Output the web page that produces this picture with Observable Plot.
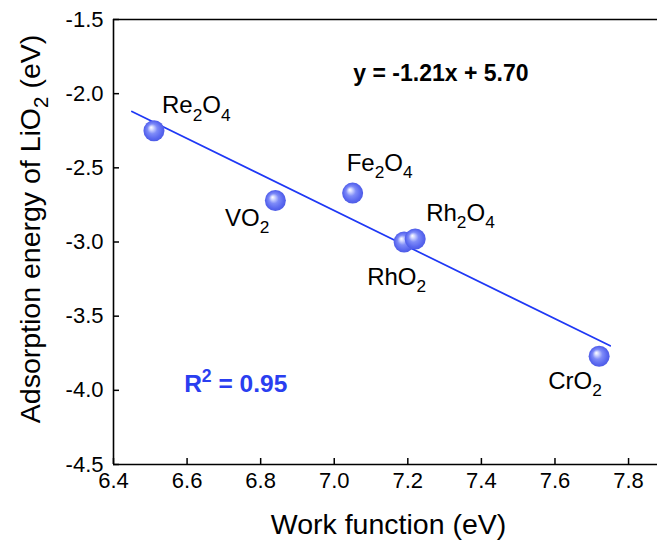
<!DOCTYPE html>
<html><head><meta charset="utf-8">
<script src="https://cdn.jsdelivr.net/npm/d3@7"></script>
<script src="https://cdn.jsdelivr.net/npm/@observablehq/plot@0.6"></script>
<style>
body{margin:0;background:#fff}
svg{font-family:"Liberation Sans",Arial,Helvetica,sans-serif}
</style>
</head><body><div id="chart"></div>
<script>
// ---- data ----
const materials    = ["Re2O4", "VO2", "Fe2O4", "RhO2", "Rh2O4", "CrO2"];
const workFunction = [6.51, 6.84, 7.05, 7.19, 7.22, 7.72];
const adsorption   = [-2.25, -2.72, -2.67, -3.00, -2.98, -3.77];
const fitX = [6.45, 7.75];
const fitY = [-2.12, -3.70];
const xTicks = [6.4, 6.6, 6.8, 7.0, 7.2, 7.4, 7.6, 7.8];
const yTicks = [-1.5, -2.0, -2.5, -3.0, -3.5, -4.0, -4.5];
const xTitle = "Work function (eV)";
const yTitle = "Adsorption energy of LiO_2 (eV)";
const equationText = "y = -1.21x + 5.70";
const r2Text = "R^2 = 0.95";
const equationPos = {x: 7.29, y: -1.865};
const r2Pos = {x: 6.592, y: -3.955};

// label placement (style)
const placement = {
  "Re2O4": {dx: 8,   dy: -25, anchor: "start"},
  "VO2":   {dx: -6,  dy: 18,  anchor: "end"},
  "Fe2O4": {dx: -6,  dy: -30, anchor: "start"},
  "RhO2":  {dx: -37, dy: 35,  anchor: "start"},
  "Rh2O4": {dx: 11,  dy: -26, anchor: "start"},
  "CrO2":  {dx: -51, dy: 25,  anchor: "start"}
};

const points = materials.map((m, i) => ({name: m, x: workFunction[i], y: adsorption[i]}));
const fit = fitX.map((x, i) => ({x, y: fitY[i]}));

const W = 657, H = 549, mL = 113, mR = 0, mT = 19, mB = 85;
const plotW = W - mL - mR, plotH = H - mT - mB;

const labelMarks = points.map(p => Plot.text([p], {
  x: "x", y: "y", text: "name",
  dx: placement[p.name].dx, dy: placement[p.name].dy,
  textAnchor: placement[p.name].anchor, lineAnchor: "middle",
  fontSize: 24, fill: "#000", ariaDescription: "formula-label"
}));

const chart = Plot.plot({
  width: W, height: H,
  marginLeft: mL, marginRight: mR, marginTop: mT, marginBottom: mB,
  x: {domain: [6.4, 6.4 + plotW / 367.9]},
  y: {domain: [-4.5, -1.5]},
  marks: [
    Plot.axisX({ticks: xTicks, tickSize: 0, tickPadding: 8, fontSize: 22, fill: "#000",
      tickFormat: d => d.toFixed(1), label: null}),
    Plot.axisY({ticks: yTicks, tickSize: 0, tickPadding: 10, fontSize: 22, fill: "#000",
      tickFormat: d => d.toFixed(1), label: null}),
    Plot.tickX(xTicks, {x: d => d, insetTop: plotH - 6, stroke: "#000", strokeWidth: 1.5}),
    Plot.tickY(yTicks, {y: d => d, insetRight: plotW - 6, stroke: "#000", strokeWidth: 1.5}),
    Plot.ruleY([yTicks[0]], {stroke: "#000", strokeWidth: 1.6}),
    Plot.ruleY([yTicks[yTicks.length - 1]], {stroke: "#000", strokeWidth: 1.6}),
    Plot.ruleX([xTicks[0]], {stroke: "#000", strokeWidth: 1.6}),
    Plot.line(fit, {x: "x", y: "y", stroke: "#1f38f5", strokeWidth: 1.7}),
    Plot.dot(points, {x: "x", y: "y", r: 10.5, fill: "#5a68f0", stroke: "none", ariaDescription: "spheres"}),
    ...labelMarks,
    Plot.text([equationText], {x: () => equationPos.x, y: () => equationPos.y, text: d => d,
      textAnchor: "middle", lineAnchor: "middle", fontSize: 23, fontWeight: "bold", fill: "#000"}),
    Plot.text([r2Text], {x: () => r2Pos.x, y: () => r2Pos.y, text: d => d,
      textAnchor: "start", lineAnchor: "middle", fontSize: 24.5, fontWeight: "bold", fill: "#2a3ef0",
      ariaDescription: "r2"}),
    Plot.text([xTitle], {frameAnchor: "bottom", text: d => d, dx: 3, dy: 60,
      textAnchor: "middle", lineAnchor: "middle", fontSize: 28.5, fill: "#000"}),
    Plot.text([yTitle], {frameAnchor: "left", text: d => d, rotate: -90, dx: -83, dy: -13,
      textAnchor: "middle", lineAnchor: "middle", fontSize: 28.5, fill: "#000", ariaDescription: "ytitle"})
  ]
});

// ---- gradient spheres ----
const root = chart.tagName.toLowerCase() === "svg" ? chart : chart.querySelector("svg");
const svg = d3.select(root);
const defs = svg.insert("defs", ":first-child");
const grad = defs.append("radialGradient").attr("id", "ball")
  .attr("cx", "50%").attr("cy", "50%").attr("r", "52%").attr("fx", "36%").attr("fy", "34%");
[["0%", "#ffffff"], ["16%", "#d6dbff"], ["45%", "#7e8bf8"], ["80%", "#5967ef"], ["100%", "#4b59e4"]]
  .forEach(([o, c]) => grad.append("stop").attr("offset", o).attr("stop-color", c));
function pick(label, tag) {
  return svg.selectAll(`g[aria-description="${label}"] ${tag}`);
}
pick("spheres", "circle").attr("fill", "url(#ball)");

// ---- sub/superscripts ----
function rich(el, parts, fs) {
  const sel = d3.select(el);
  sel.text(null);
  let shift = 0;
  for (const [s, kind] of parts) {
    const target = kind === "sub" ? fs * 0.3 : kind === "sup" ? -fs * 0.4 : 0;
    const t = sel.append("tspan").text(s).attr("dy", target - shift);
    if (kind) t.attr("font-size", fs * 0.72);
    shift = target;
  }
}
function parseFormula(s) {
  return s.match(/[A-Za-z]+|\d+/g).map(p => [p, /\d/.test(p) ? "sub" : null]);
}
function parseMarkup(s) {
  const out = [];
  const re = /([_^])(\w)/g;
  let last = 0, m;
  while ((m = re.exec(s))) {
    if (m.index > last) out.push([s.slice(last, m.index), null]);
    out.push([m[2], m[1] === "_" ? "sub" : "sup"]);
    last = re.lastIndex;
  }
  if (last < s.length) out.push([s.slice(last), null]);
  return out;
}
pick("formula-label", "text").each(function () {
  rich(this, parseFormula(this.textContent), 24);
});
pick("r2", "text").each(function () {
  rich(this, parseMarkup(this.textContent), 24.5);
});
pick("ytitle", "text").each(function () {
  rich(this, parseMarkup(this.textContent), 28.5);
});
svg.selectAll("text").style("white-space", "pre");

document.getElementById("chart").appendChild(chart);
</script>
</body></html>
